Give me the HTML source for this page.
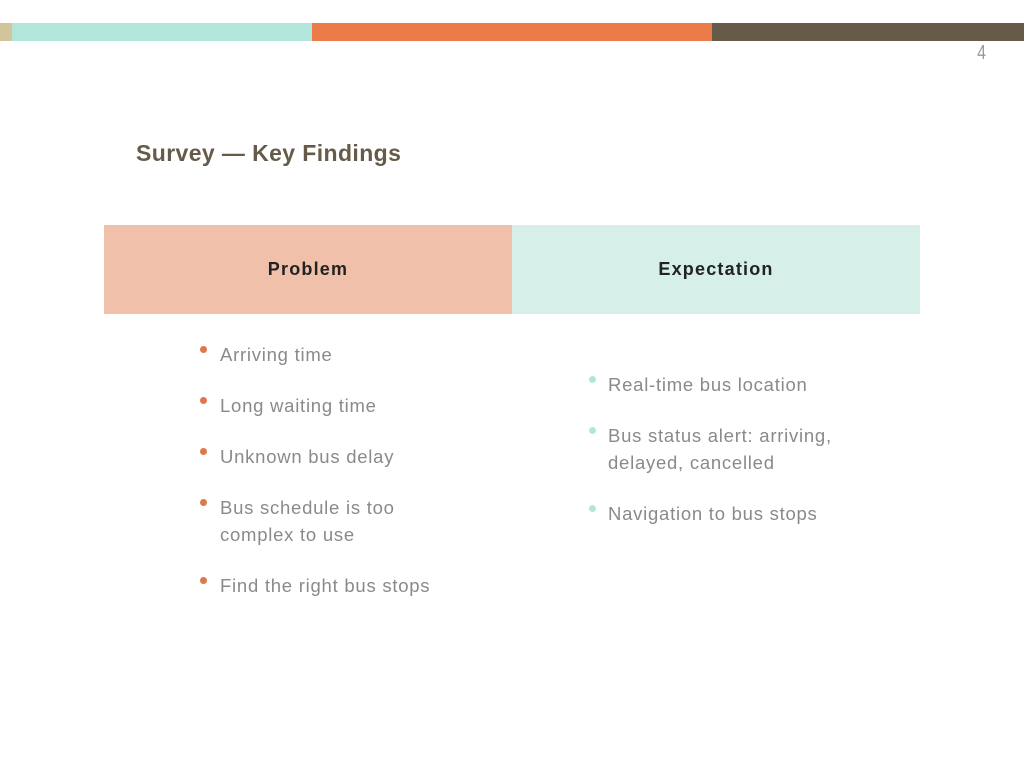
<!DOCTYPE html><html><head><style>
body{margin:0;width:1024px;height:768px;background:#fff;position:relative;overflow:hidden;font-family:"Liberation Sans",sans-serif}
.a{position:absolute}
.t{position:absolute;color:#8a8a8a;font-size:18.5px;letter-spacing:0.75px;line-height:27px;white-space:nowrap}
.d{position:absolute;width:7px;height:7px;border-radius:50%}
.h{font-weight:bold;font-size:18px;color:#222;text-align:center;line-height:89px;letter-spacing:1.2px}
</style></head><body>
<div class="a" style="left:0;top:23px;width:12px;height:18px;background:#d3c59b"></div>
<div class="a" style="left:12px;top:23px;width:300px;height:18px;background:#b2e6da"></div>
<div class="a" style="left:312px;top:23px;width:400px;height:18px;background:#ec7b4a"></div>
<div class="a" style="left:712px;top:23px;width:312px;height:18px;background:#665a48"></div>
<div class="a" style="left:976px;top:42px;font-size:20px;color:#999;transform:scaleX(0.8)">4</div>
<div class="a" style="left:136px;top:140px;font-size:23px;font-weight:bold;color:#665a48;letter-spacing:0.4px">Survey — Key Findings</div>
<div class="a h" style="left:104px;top:225px;width:408px;height:89px;background:#f0c0aa">Problem</div>
<div class="a h" style="left:512px;top:225px;width:408px;height:89px;background:#d6efe9">Expectation</div>
<div class="d" style="left:200px;top:346px;background:#e0774a"></div><div class="t" style="left:220px;top:341px">Arriving time</div>
<div class="d" style="left:200px;top:397px;background:#e0774a"></div><div class="t" style="left:220px;top:392px">Long waiting time</div>
<div class="d" style="left:200px;top:448px;background:#e0774a"></div><div class="t" style="left:220px;top:443px">Unknown bus delay</div>
<div class="d" style="left:200px;top:499px;background:#e0774a"></div><div class="t" style="left:220px;top:494px">Bus schedule is too<br>complex to use</div>
<div class="d" style="left:200px;top:577px;background:#e0774a"></div><div class="t" style="left:220px;top:572px">Find the right bus stops</div>
<div class="d" style="left:589px;top:376px;background:#b2e6da"></div><div class="t" style="left:608px;top:371px">Real-time bus location</div>
<div class="d" style="left:589px;top:427px;background:#b2e6da"></div><div class="t" style="left:608px;top:422px">Bus status alert: arriving,<br>delayed, cancelled</div>
<div class="d" style="left:589px;top:505px;background:#b2e6da"></div><div class="t" style="left:608px;top:500px">Navigation to bus stops</div>
</body></html>
